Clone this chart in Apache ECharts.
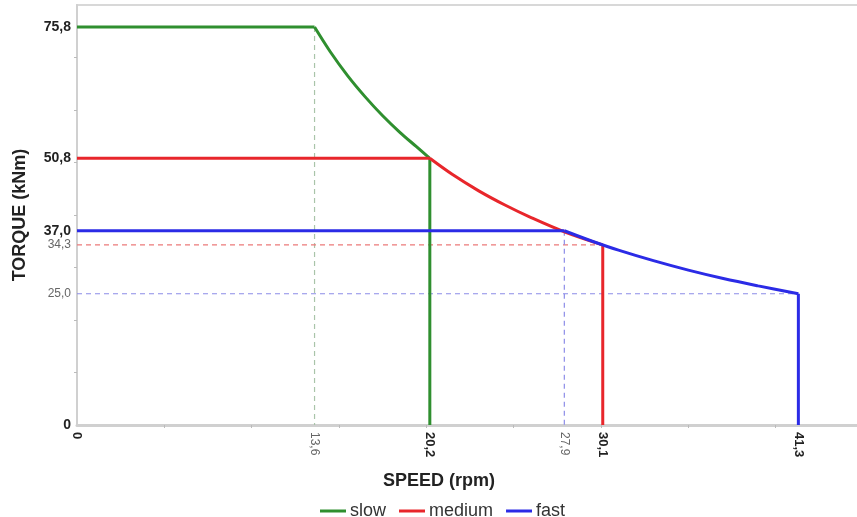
<!DOCTYPE html>
<html>
<head>
<meta charset="utf-8">
<script src="https://cdn.jsdelivr.net/npm/echarts@6/dist/echarts.min.js"></script>
<style>
html,body{margin:0;padding:0;background:#fff;}
#c{width:857px;height:517px;}
</style>
</head>
<body>
<div id="c"></div>
<script>
// ---- data ----
var slowFlat = [[0, 75.8], [13.6, 75.8]];
var slowCurve = [[13.6, 75.8], [14.5, 71.1], [15.5, 66.5], [16.5, 62.5], [17.5, 58.9], [18.5, 55.7], [19.4, 53.1], [20.2, 50.8]];
var slowDrop = [[20.2, 50.8], [20.2, 0]];
var mediumFlat = [[0, 50.8], [20.2, 50.8]];
var mediumCurve = [[20.2, 50.8], [21.5, 47.7], [23, 44.6], [24.5, 41.9], [26, 39.5], [27.9, 36.8], [30.1, 34.3]];
var mediumDrop = [[30.1, 34.3], [30.1, 0]];
var fastFlat = [[0, 37.0], [27.9, 37.0]];
var fastCurve = [[27.9, 37.0], [29.5, 35.0], [31, 33.3], [33, 31.3], [35, 29.5], [37, 27.9], [39, 26.5], [41.3, 25.0]];
var fastDrop = [[41.3, 25.0], [41.3, 0]];
var slowGuide = [[13.6, 75.8], [13.6, 0]];
var mediumGuide = [[0, 34.3], [30.1, 34.3]];
var fastGuideV = [[27.9, 37.0], [27.9, 0]];
var fastGuideH = [[0, 25.0], [41.3, 25.0]];

var xLabelsBold = [0, 20.2, 30.1, 41.3];
var xLabelsSmall = [13.6, 27.9];
var yLabelsBold = [0, 37.0, 50.8, 75.8];
var yLabelsSmall = [25.0, 34.3];
var xTicks = [5, 10, 15, 20, 25, 30, 35, 40];
var yTicks = [10, 20, 30, 40, 50, 60, 70];
var legendNames = ['slow', 'medium', 'fast'];

var GREEN = '#2f8f2f', RED = '#e8262b', BLUE = '#2b2be6';
var FONT = "'Liberation Sans', Arial, sans-serif";

function fmt(v) { return v === 0 ? '0' : v.toFixed(1).replace('.', ','); }
function labelFmt(boldArr) {
  return function (v) {
    for (var i = 0; i < boldArr.length; i++) if (Math.abs(boldArr[i] - v) < 1e-6) return '{b|' + fmt(v) + '}';
    return '{s|' + fmt(v) + '}';
  };
}
function richFor(bSize, sSize) {
  return {
    b: { fontFamily: FONT, fontWeight: 'bold', fontSize: bSize, color: '#222' },
    s: { fontFamily: FONT, fontSize: sSize, color: '#666' }
  };
}

function main(name, color, data, smooth) {
  return { name: name, type: 'line', data: data, smooth: smooth ? 0.35 : false, symbol: 'none',
    lineStyle: { color: color, width: 3 }, itemStyle: { color: color }, z: 3 };
}
function guide(color, data) {
  return { name: '_g', type: 'line', data: data, symbol: 'none', silent: true,
    lineStyle: { color: color, width: 1.2, type: [5, 4] }, z: 2 };
}

var chart = echarts.init(document.getElementById('c'), null, { renderer: 'canvas' });
chart.setOption({
  animation: false,
  grid: { left: 77, top: 5, bottom: 92, right: -6, show: true, borderColor: '#d8d8d8', borderWidth: 2, outerBoundsMode: 'none' },
  legend: {
    data: legendNames, left: 315, top: 497, icon: 'rect', itemWidth: 26, itemHeight: 3, itemGap: 13,
    textStyle: { fontFamily: FONT, fontSize: 18, color: '#333', padding: [0, 0, 0, -1] }
  },
  xAxis: {
    type: 'value', min: 0, max: 45,
    name: 'SPEED (rpm)', nameLocation: 'middle', nameGap: 47,
    nameTextStyle: { fontFamily: FONT, fontWeight: 'bold', fontSize: 18, color: '#222', padding: [0, 62, 0, 0] },
    splitLine: { show: false },
    axisLine: { show: true, lineStyle: { color: '#d0d0d0', width: 3 } },
    axisTick: { show: true, customValues: xTicks, length: 3, lineStyle: { color: '#bbb' } },
    axisLabel: { customValues: xLabelsBold.concat(xLabelsSmall), rotate: -90, margin: 7, formatter: labelFmt(xLabelsBold), rich: richFor(13, 12) }
  },
  yAxis: {
    type: 'value', min: 0, max: 80,
    name: 'TORQUE (kNm)', nameLocation: 'middle', nameGap: 48,
    nameTextStyle: { fontFamily: FONT, fontWeight: 'bold', fontSize: 18, color: '#222' },
    splitLine: { show: false },
    axisLine: { show: true, lineStyle: { color: '#d0d0d0', width: 2 } },
    axisTick: { show: true, customValues: yTicks, length: 3, lineStyle: { color: '#bbb' } },
    axisLabel: { customValues: yLabelsBold.concat(yLabelsSmall), margin: 6, formatter: labelFmt(yLabelsBold), rich: richFor(14, 12) }
  },
  series: [
    guide('#a9c4a9', slowGuide),
    guide('#ec7a7a', mediumGuide),
    guide('#8c8ce8', fastGuideV),
    guide('#8c8ce8', fastGuideH),
    main('slow', GREEN, slowFlat, false),
    main('slow', GREEN, slowCurve, true),
    main('slow', GREEN, slowDrop, false),
    main('medium', RED, mediumFlat, false),
    main('medium', RED, mediumCurve, true),
    main('medium', RED, mediumDrop, false),
    main('fast', BLUE, fastFlat, false),
    main('fast', BLUE, fastCurve, true),
    main('fast', BLUE, fastDrop, false)
  ]
});
</script>
</body>
</html>
